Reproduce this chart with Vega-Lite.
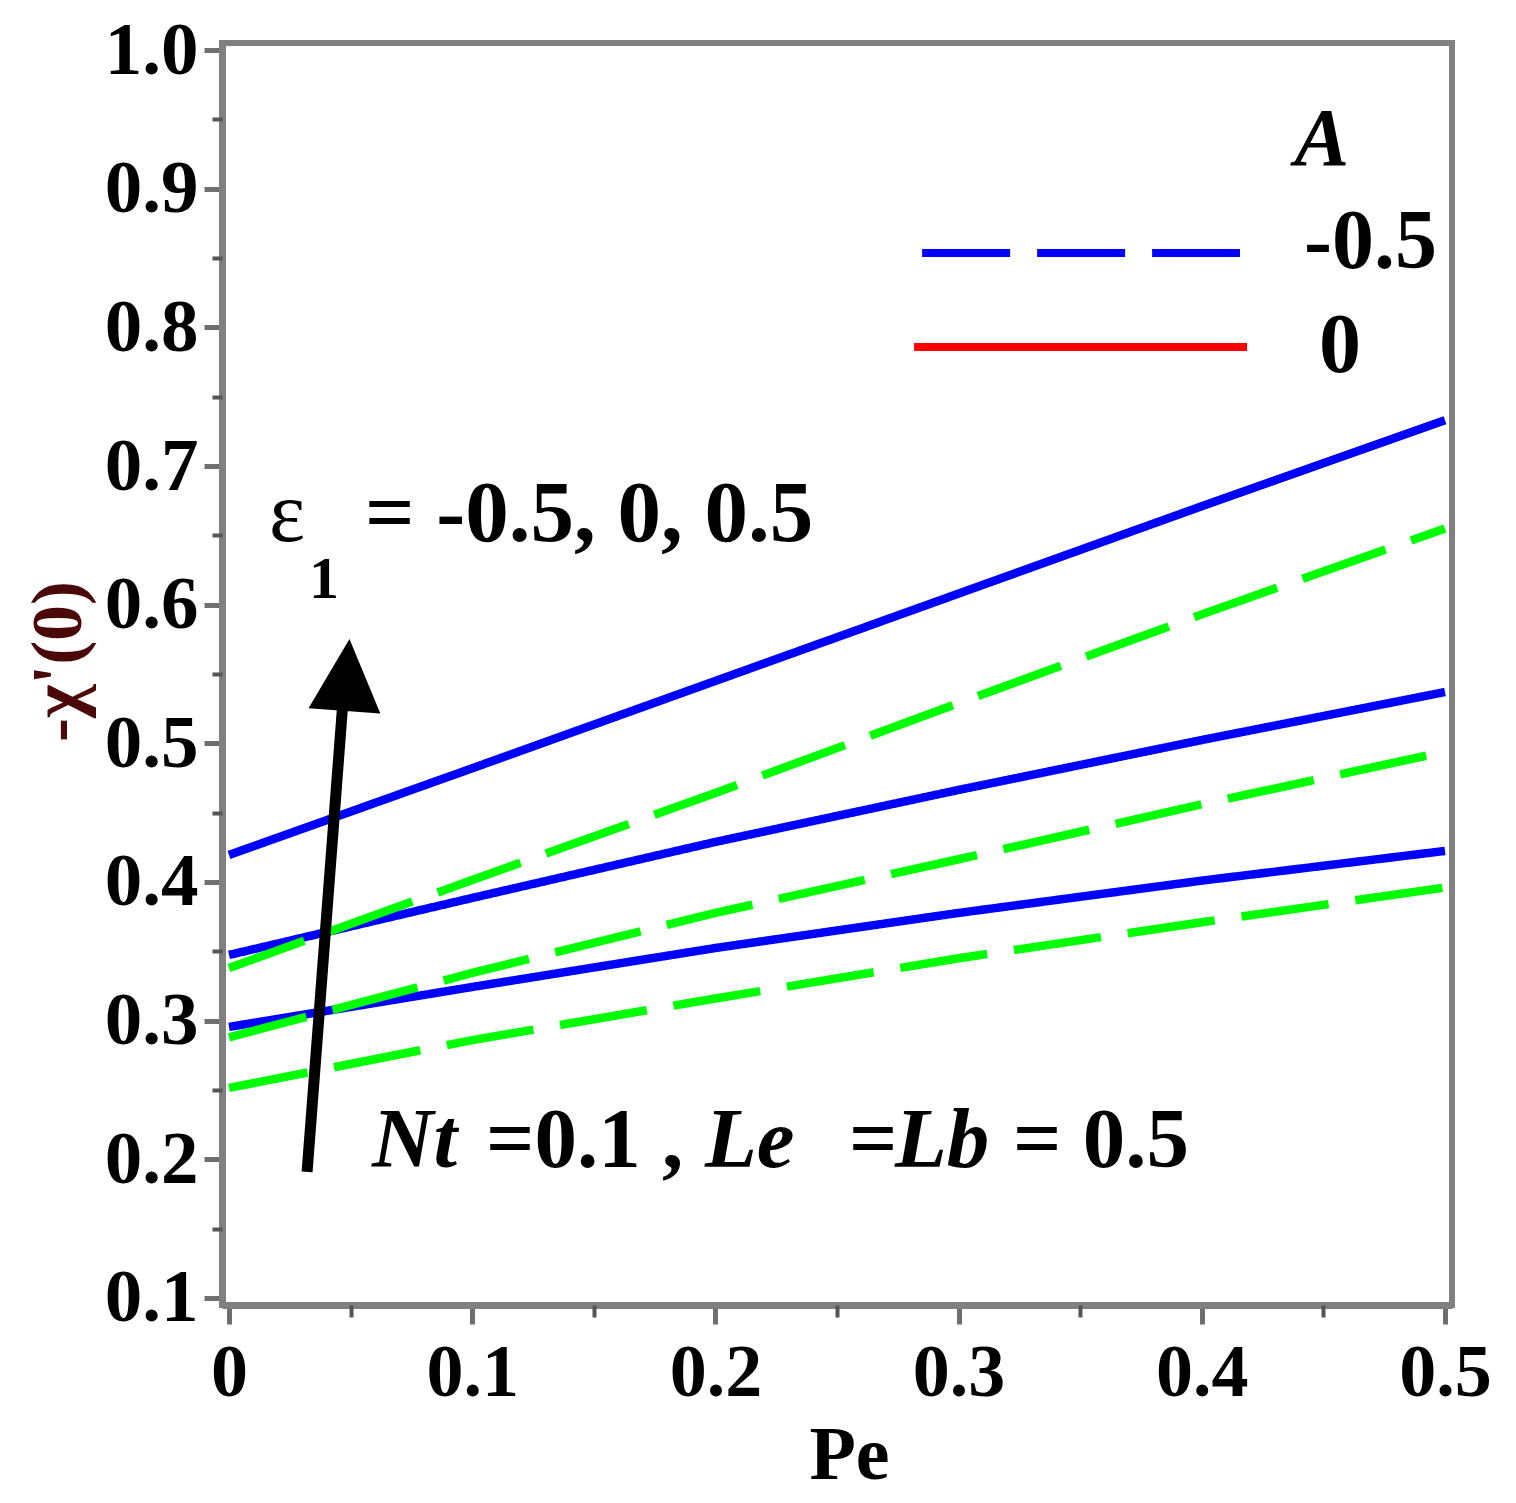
{
  "$schema": "https://vega.github.io/schema/vega-lite/v6.json",
  "autosize": "none",
  "padding": {"left": 222, "top": 43, "right": 64, "bottom": 198},
  "width": 1230,
  "height": 1262,
  "config": {
    "font": "Liberation Serif",
    "view": {"stroke": "#808080", "strokeWidth": 6},
    "axis": {"grid": false}
  },
  "resolve": {"axis": {"x": "independent", "y": "independent"}},
  "layer": [
    {
      "data": {
        "values": [
          {"Pe": 0.0, "value": 0.4195, "A": "0", "eps": "0.5"},
          {"Pe": 0.1, "value": 0.482, "A": "0", "eps": "0.5"},
          {"Pe": 0.2, "value": 0.545, "A": "0", "eps": "0.5"},
          {"Pe": 0.3, "value": 0.608, "A": "0", "eps": "0.5"},
          {"Pe": 0.4, "value": 0.671, "A": "0", "eps": "0.5"},
          {"Pe": 0.5, "value": 0.733, "A": "0", "eps": "0.5"},
          {"Pe": 0.0, "value": 0.3474, "A": "0", "eps": "0"},
          {"Pe": 0.1, "value": 0.3885, "A": "0", "eps": "0"},
          {"Pe": 0.2, "value": 0.4289, "A": "0", "eps": "0"},
          {"Pe": 0.3, "value": 0.4664, "A": "0", "eps": "0"},
          {"Pe": 0.4, "value": 0.5024, "A": "0", "eps": "0"},
          {"Pe": 0.5, "value": 0.537, "A": "0", "eps": "0"},
          {"Pe": 0.0, "value": 0.2955, "A": "0", "eps": "-0.5"},
          {"Pe": 0.1, "value": 0.3243, "A": "0", "eps": "-0.5"},
          {"Pe": 0.2, "value": 0.3524, "A": "0", "eps": "-0.5"},
          {"Pe": 0.3, "value": 0.3777, "A": "0", "eps": "-0.5"},
          {"Pe": 0.4, "value": 0.401, "A": "0", "eps": "-0.5"},
          {"Pe": 0.5, "value": 0.4224, "A": "0", "eps": "-0.5"},
          {"Pe": 0.0, "value": 0.338, "A": "-0.5", "eps": "0.5"},
          {"Pe": 0.1, "value": 0.4015, "A": "-0.5", "eps": "0.5"},
          {"Pe": 0.2, "value": 0.4642, "A": "-0.5", "eps": "0.5"},
          {"Pe": 0.3, "value": 0.529, "A": "-0.5", "eps": "0.5"},
          {"Pe": 0.4, "value": 0.593, "A": "-0.5", "eps": "0.5"},
          {"Pe": 0.5, "value": 0.655, "A": "-0.5", "eps": "0.5"},
          {"Pe": 0.0, "value": 0.288, "A": "-0.5", "eps": "0"},
          {"Pe": 0.1, "value": 0.3344, "A": "-0.5", "eps": "0"},
          {"Pe": 0.2, "value": 0.3777, "A": "-0.5", "eps": "0"},
          {"Pe": 0.3, "value": 0.4164, "A": "-0.5", "eps": "0"},
          {"Pe": 0.4, "value": 0.456, "A": "-0.5", "eps": "0"},
          {"Pe": 0.5, "value": 0.494, "A": "-0.5", "eps": "0"},
          {"Pe": 0.0, "value": 0.2515, "A": "-0.5", "eps": "-0.5"},
          {"Pe": 0.1, "value": 0.286, "A": "-0.5", "eps": "-0.5"},
          {"Pe": 0.2, "value": 0.316, "A": "-0.5", "eps": "-0.5"},
          {"Pe": 0.3, "value": 0.345, "A": "-0.5", "eps": "-0.5"},
          {"Pe": 0.4, "value": 0.371, "A": "-0.5", "eps": "-0.5"},
          {"Pe": 0.5, "value": 0.396, "A": "-0.5", "eps": "-0.5"}
        ]
      },
      "mark": {"type": "line", "strokeWidth": 8.5, "strokeDashOffset": 8},
      "encoding": {
        "x": {
          "field": "Pe",
          "type": "quantitative",
          "scale": {"domain": [-0.00288, 0.50288], "nice": false, "zero": false},
          "axis": {
            "orient": "bottom",
            "values": [0, 0.1, 0.2, 0.3, 0.4, 0.5],
            "format": ".1~f",
            "labelFontSize": 74,
            "labelFontWeight": "bold",
            "labelColor": "black",
            "labelBaseline": "alphabetic",
            "labelPadding": 71,
            "labelFlush": false,
            "labelOverlap": false,
            "tickSize": 19,
            "tickWidth": 5,
            "tickColor": "#6e6e6e",
            "domainColor": "#808080",
            "domainWidth": 7,
            "title": "Pe",
            "titleFontSize": 76,
            "titleFontWeight": "bold",
            "titleColor": "black",
            "titleX": 627,
            "titleY": 173,
            "titleBaseline": "alphabetic",
            "titleAlign": "center"
          }
        },
        "y": {
          "field": "value",
          "type": "quantitative",
          "scale": {"domain": [0.09495, 1.00505], "nice": false, "zero": false},
          "axis": {
            "orient": "left",
            "values": [0.1, 0.2, 0.3, 0.4, 0.5, 0.6, 0.7, 0.8, 0.9, 1.0],
            "format": ".1f",
            "labelFontSize": 75,
            "labelFontWeight": "bold",
            "labelColor": "black",
            "labelPadding": 6,
            "labelFlush": false,
            "labelOverlap": false,
            "tickSize": 18,
            "tickWidth": 5,
            "tickColor": "#6e6e6e",
            "domainColor": "#808080",
            "domainWidth": 7,
            "title": "-χ'(0)",
            "titleFontSize": 72,
            "titleFontWeight": "bold",
            "titleColor": "#4a0808",
            "titleAngle": 270,
            "titleBaseline": "bottom",
            "titleAlign": "center",
            "titleX": -127,
            "titleY": 618
          }
        },
        "color": {
          "field": "A",
          "type": "nominal",
          "scale": {"domain": ["-0.5", "0"], "range": ["#00ff00", "#0000ff"]},
          "legend": null
        },
        "strokeDash": {
          "field": "A",
          "type": "nominal",
          "scale": {"domain": ["-0.5", "0"], "range": [[88, 27], [1, 0]]},
          "legend": null
        },
        "detail": {"field": "eps"}
      }
    },
    {
      "data": {"values": [{}]},
      "mark": {"type": "rule", "strokeWidth": 11, "color": "black"},
      "encoding": {
        "x": {
          "datum": 0.0321,
          "type": "quantitative",
          "axis": {
            "orient": "bottom",
            "values": [0.05, 0.15, 0.25, 0.35, 0.45],
            "labels": false,
            "domain": false,
            "tickSize": 12,
            "tickWidth": 4,
            "tickColor": "#555555",
            "title": null
          }
        },
        "x2": {"datum": 0.0469},
        "y": {
          "datum": 0.1909,
          "type": "quantitative",
          "axis": {
            "orient": "left",
            "values": [0.15, 0.25, 0.35, 0.45, 0.55, 0.65, 0.75, 0.85, 0.95],
            "labels": false,
            "domain": false,
            "tickSize": 10,
            "tickWidth": 4,
            "tickColor": "#555555",
            "title": null
          }
        },
        "y2": {"datum": 0.5313}
      }
    },
    {
      "data": {"values": [{}]},
      "mark": {"type": "point", "shape": "M-1,1L1,1L0,-1Z", "size": 5184, "angle": 4, "filled": true, "color": "black", "opacity": 1},
      "encoding": {
        "x": {"datum": 0.0485, "type": "quantitative", "axis": null},
        "y": {"datum": 0.5493, "type": "quantitative", "axis": null}
      }
    },
    {
      "data": {"values": [{}]},
      "mark": {"type": "rule", "strokeWidth": 8, "color": "#0000ff", "strokeDash": [88, 27]},
      "encoding": {
        "x": {"datum": 0.285, "type": "quantitative", "axis": null},
        "x2": {"datum": 0.4157},
        "y": {"datum": 0.8536, "type": "quantitative", "axis": null}
      }
    },
    {
      "data": {"values": [{}]},
      "mark": {"type": "rule", "strokeWidth": 8, "color": "#ff0000"},
      "encoding": {
        "x": {"datum": 0.2817, "type": "quantitative", "axis": null},
        "x2": {"datum": 0.4186},
        "y": {"datum": 0.7858, "type": "quantitative", "axis": null}
      }
    },
    {
      "data": {"values": [{}]},
      "mark": {"type": "text", "text": "A", "fontSize": 82, "fontWeight": "bold", "fontStyle": "italic", "align": "center", "baseline": "alphabetic", "color": "black"},
      "encoding": {
        "x": {"datum": 0.4494, "type": "quantitative", "axis": null},
        "y": {"datum": 0.917, "type": "quantitative", "axis": null}
      }
    },
    {
      "data": {"values": [{}]},
      "mark": {"type": "text", "text": "-0.5", "fontSize": 84, "fontWeight": "bold", "align": "right", "baseline": "alphabetic", "color": "black"},
      "encoding": {
        "x": {"datum": 0.4967, "type": "quantitative", "axis": null},
        "y": {"datum": 0.8428, "type": "quantitative", "axis": null}
      }
    },
    {
      "data": {"values": [{}]},
      "mark": {"type": "text", "text": "0", "fontSize": 84, "fontWeight": "bold", "align": "center", "baseline": "alphabetic", "color": "black"},
      "encoding": {
        "x": {"datum": 0.4568, "type": "quantitative", "axis": null},
        "y": {"datum": 0.7678, "type": "quantitative", "axis": null}
      }
    },
    {
      "data": {"values": [{}]},
      "mark": {"type": "text", "text": "ε", "fontSize": 86, "align": "left", "baseline": "alphabetic", "color": "black"},
      "encoding": {
        "x": {"datum": 0.0164, "type": "quantitative", "axis": null},
        "y": {"datum": 0.646, "type": "quantitative", "axis": null}
      }
    },
    {
      "data": {"values": [{}]},
      "mark": {"type": "text", "text": "1", "fontSize": 60, "fontWeight": "bold", "align": "left", "baseline": "alphabetic", "color": "black"},
      "encoding": {
        "x": {"datum": 0.0329, "type": "quantitative", "axis": null},
        "y": {"datum": 0.6048, "type": "quantitative", "axis": null}
      }
    },
    {
      "data": {"values": [{}]},
      "mark": {"type": "text", "text": "= -0.5, 0, 0.5", "fontSize": 87, "fontWeight": "bold", "align": "left", "baseline": "alphabetic", "color": "black"},
      "encoding": {
        "x": {"datum": 0.0559, "type": "quantitative", "axis": null},
        "y": {"datum": 0.646, "type": "quantitative", "axis": null}
      }
    },
    {
      "data": {"values": [{}]},
      "mark": {"type": "text", "text": "Nt", "fontSize": 85, "fontWeight": "bold", "fontStyle": "italic", "align": "left", "baseline": "alphabetic", "color": "black"},
      "encoding": {
        "x": {"datum": 0.0588, "type": "quantitative", "axis": null},
        "y": {"datum": 0.1945, "type": "quantitative", "axis": null}
      }
    },
    {
      "data": {"values": [{}]},
      "mark": {"type": "text", "text": "=0.1 ,", "fontSize": 85, "fontWeight": "bold", "align": "left", "baseline": "alphabetic", "color": "black"},
      "encoding": {
        "x": {"datum": 0.1057, "type": "quantitative", "axis": null},
        "y": {"datum": 0.1945, "type": "quantitative", "axis": null}
      }
    },
    {
      "data": {"values": [{}]},
      "mark": {"type": "text", "text": "Le", "fontSize": 85, "fontWeight": "bold", "fontStyle": "italic", "align": "left", "baseline": "alphabetic", "color": "black"},
      "encoding": {
        "x": {"datum": 0.1957, "type": "quantitative", "axis": null},
        "y": {"datum": 0.1945, "type": "quantitative", "axis": null}
      }
    },
    {
      "data": {"values": [{}]},
      "mark": {"type": "text", "text": "=", "fontSize": 85, "fontWeight": "bold", "align": "left", "baseline": "alphabetic", "color": "black"},
      "encoding": {
        "x": {"datum": 0.2549, "type": "quantitative", "axis": null},
        "y": {"datum": 0.1945, "type": "quantitative", "axis": null}
      }
    },
    {
      "data": {"values": [{}]},
      "mark": {"type": "text", "text": "Lb", "fontSize": 85, "fontWeight": "bold", "fontStyle": "italic", "align": "left", "baseline": "alphabetic", "color": "black"},
      "encoding": {
        "x": {"datum": 0.2738, "type": "quantitative", "axis": null},
        "y": {"datum": 0.1945, "type": "quantitative", "axis": null}
      }
    },
    {
      "data": {"values": [{}]},
      "mark": {"type": "text", "text": "= 0.5", "fontSize": 85, "fontWeight": "bold", "align": "left", "baseline": "alphabetic", "color": "black"},
      "encoding": {
        "x": {"datum": 0.3224, "type": "quantitative", "axis": null},
        "y": {"datum": 0.1945, "type": "quantitative", "axis": null}
      }
    }
  ]
}
